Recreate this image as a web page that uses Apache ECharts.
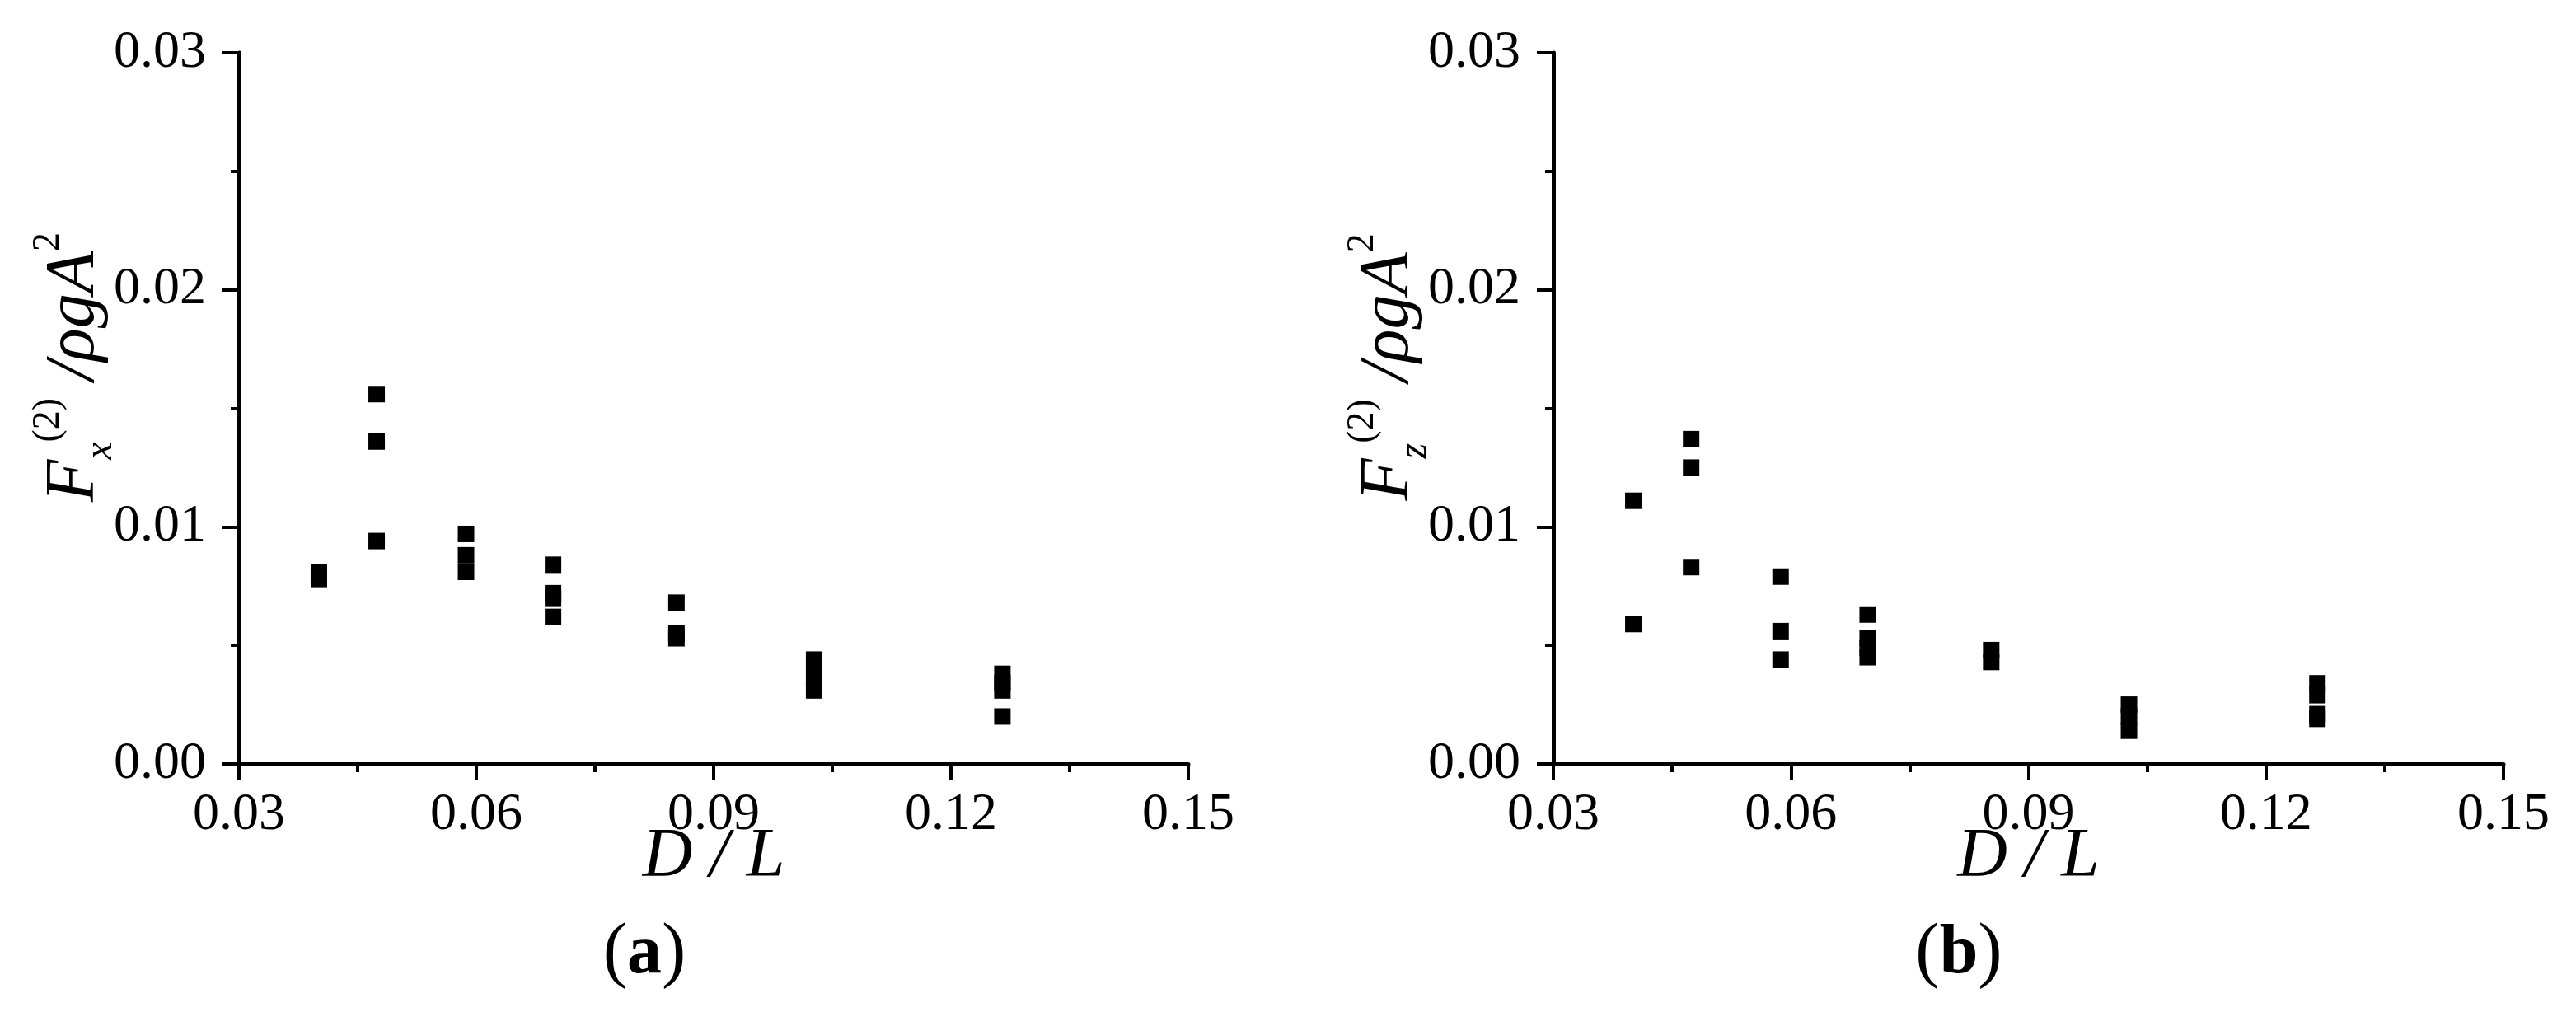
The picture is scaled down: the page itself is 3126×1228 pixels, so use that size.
<!DOCTYPE html>
<html>
<head>
<meta charset="utf-8">
<title>F(2) vs D/L</title>
<script src="https://cdn.jsdelivr.net/npm/echarts@6.0.0/dist/echarts.min.js"></script>
<style>
  html, body { margin: 0; padding: 0; background: #fff; }
  #chart { width: 3126px; height: 1228px; }
</style>
</head>
<body>
<div id="chart"></div>
<script>
// D/L 取值（两幅图共用）
const dOverL = [0.0401, 0.0474, 0.0587, 0.0697, 0.0853, 0.1027, 0.1265];

// (a) 水平二阶力 Fx(2)/ρgA²，每个 D/L 下的几组结果
const fxValues = [
  [0.0081, 0.0078],
  [0.0156, 0.0136, 0.0094],
  [0.0097, 0.0088, 0.0081],
  [0.0084, 0.0072, 0.0070, 0.0062],
  [0.0068, 0.0055, 0.0053],
  [0.0044, 0.0037, 0.0031],
  [0.0038, 0.0034, 0.0031, 0.0020]
];

// (b) 垂向二阶力 Fz(2)/ρgA²
const fzValues = [
  [0.0111, 0.0059],
  [0.0137, 0.0125, 0.0083],
  [0.0079, 0.0056, 0.0044],
  [0.0063, 0.0053, 0.0049, 0.0045],
  [0.0048, 0.0043],
  [0.0025, 0.0020, 0.0014],
  [0.0034, 0.0029, 0.0021, 0.0019]
];

const xTicks = { min: 0.03, max: 0.15, interval: 0.03 };
const yTicks = { min: 0, max: 0.03, interval: 0.01 };

const FONT = "'Liberation Serif', 'Times New Roman', serif";

// 把每列的多个值展开成 [x, y] 点
function toPoints(values) {
  const pts = [];
  values.forEach((col, i) => {
    col.forEach((v) => pts.push([dOverL[i], v]));
  });
  return pts;
}

const nameRich = {
  it: { fontFamily: FONT, fontStyle: "italic", fontSize: 84, lineHeight: 110, color: "#000" },
  sub: { fontFamily: FONT, fontStyle: "italic", fontSize: 48, lineHeight: 48, verticalAlign: "bottom", color: "#000" },
  sup: { fontFamily: FONT, fontSize: 46, lineHeight: 46, verticalAlign: "top", color: "#000" }
};

function makeXAxis(gridIndex) {
  return {
    gridIndex: gridIndex,
    type: "value",
    min: xTicks.min,
    max: xTicks.max,
    interval: xTicks.interval,
    axisLine: { lineStyle: { color: "#000", width: 5 } },
    axisTick: { length: 20, lineStyle: { color: "#000", width: 4 } },
    minorTick: { show: true, splitNumber: 2, length: 10, lineStyle: { color: "#000", width: 4 } },
    splitLine: { show: false },
    minorSplitLine: { show: false },
    axisLabel: {
      margin: 30,
      fontFamily: FONT,
      fontSize: 64,
      color: "#000",
      formatter: (v) => v.toFixed(2)
    },
    name: "D / L",
    nameLocation: "middle",
    nameGap: 72,
    nameMoveOverlap: false,
    nameTextStyle: { fontFamily: FONT, fontStyle: "italic", fontSize: 84, color: "#000" }
  };
}

function makeYAxis(gridIndex, comp) {
  return {
    gridIndex: gridIndex,
    type: "value",
    min: yTicks.min,
    max: yTicks.max,
    interval: yTicks.interval,
    axisLine: { onZero: false, lineStyle: { color: "#000", width: 5 } },
    axisTick: { length: 20, lineStyle: { color: "#000", width: 4 } },
    minorTick: { show: true, splitNumber: 2, length: 10, lineStyle: { color: "#000", width: 4 } },
    splitLine: { show: false },
    minorSplitLine: { show: false },
    axisLabel: {
      margin: 40,
      fontFamily: FONT,
      fontSize: 64,
      color: "#000",
      formatter: (v) => v.toFixed(2)
    },
    // 上下标用 rich text 拼出来
    name: "{it|F}{sub|" + comp + "}{sup|(2)}{it| /ρgA}{sup|2}",
    nameLocation: "middle",
    nameRotate: 90,
    nameGap: 144,
    nameMoveOverlap: false,
    nameTextStyle: { rich: nameRich, padding: [0, 0, 0, 100] }
  };
}

function makeSeries(idx, values) {
  return {
    type: "scatter",
    xAxisIndex: idx,
    yAxisIndex: idx,
    symbol: "rect",
    symbolSize: 20,
    itemStyle: { color: "#000", opacity: 1 },
    data: toPoints(values)
  };
}

const captionRich = {
  p: { fontFamily: FONT, fontSize: 88, color: "#000" },
  b: { fontFamily: FONT, fontSize: 84, fontWeight: "bold", color: "#000" }
};

const chart = echarts.init(document.getElementById("chart"));

const option = {
  animation: false,
  backgroundColor: "#fff",
  grid: [
    { left: 290, top: 64, width: 1152, height: 863 },
    { left: 1885, top: 64, width: 1153, height: 863 }
  ],
  xAxis: [makeXAxis(0), makeXAxis(1)],
  yAxis: [makeYAxis(0, "x"), makeYAxis(1, "z")],
  series: [makeSeries(0, fxValues), makeSeries(1, fzValues)],
  graphic: [
    {
      type: "text",
      x: 782,
      y: 1158,
      style: { text: "{p|(}{b|a}{p|)}", rich: captionRich, align: "center", verticalAlign: "middle" }
    },
    {
      type: "text",
      x: 2377,
      y: 1158,
      style: { text: "{p|(}{b|b}{p|)}", rich: captionRich, align: "center", verticalAlign: "middle" }
    }
  ]
};

chart.setOption(option);
</script>
</body>
</html>
